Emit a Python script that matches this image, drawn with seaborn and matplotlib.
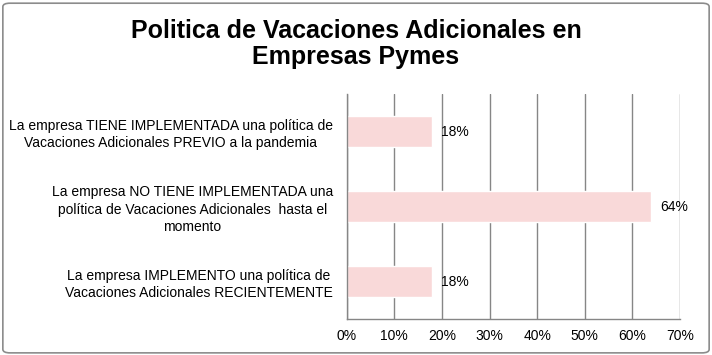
import matplotlib
matplotlib.use("Agg")
import matplotlib.pyplot as plt
from matplotlib.patches import FancyBboxPatch
import seaborn as sns
import pandas as pd

categorias = [
    "La empresa TIENE IMPLEMENTADA una política de\nVacaciones Adicionales PREVIO a la pandemia",
    "La empresa NO TIENE IMPLEMENTADA una\npolítica de Vacaciones Adicionales  hasta el\nmomento",
    "La empresa IMPLEMENTO una política de\nVacaciones Adicionales RECIENTEMENTE",
]
valores = [0.18, 0.64, 0.18]
etiquetas = ["18%", "64%", "18%"]
ticks_x = [0, 0.1, 0.2, 0.3, 0.4, 0.5, 0.6, 0.7]

df = pd.DataFrame({"categoria": categorias, "valor": valores})

sns.set_style("white")
plt.rcParams["font.family"] = ["Liberation Sans", "DejaVu Sans"]
plt.rcParams["text.color"] = "black"
plt.rcParams["xtick.color"] = "black"
plt.rcParams["ytick.color"] = "black"

fig = plt.figure(figsize=(7.12, 3.55), dpi=100)
ax = fig.add_axes([0.487, 0.101, 0.468, 0.634])

sns.barplot(data=df, x="valor", y="categoria", orient="h", color="#F9D9D9",
            saturation=1, width=0.41, ax=ax, zorder=2)

for p, txt in zip(ax.patches, etiquetas):
    ax.text(p.get_width() + 0.018, p.get_y() + p.get_height() / 2, txt,
            va="center", ha="left", fontsize=10, color="black")

ax.set_xlim(0, 0.7)
ax.set_xticks(ticks_x)
ax.set_xticklabels([f"{int(round(t * 100))}%" for t in ticks_x], fontsize=10)
ax.set_ylim(2.5, -0.5)
ax.set_yticks([0, 1, 2])
ax.set_yticklabels(categorias, fontsize=10, multialignment="center",
                   linespacing=1.3)
ax.set_xlabel("")
ax.set_ylabel("")

ax.grid(axis="x", color="#868686", linewidth=1, zorder=0)
ax.set_axisbelow(True)
for s in ["top", "right"]:
    ax.spines[s].set_visible(False)
for s in ["left", "bottom"]:
    ax.spines[s].set_color("#868686")
    ax.spines[s].set_linewidth(1)

# y axis: small ticks at category boundaries, no ticks at labels
ax.tick_params(axis="y", length=0, pad=10)
ax.set_yticks([-0.5, 0.5, 1.5, 2.5], minor=True)
ax.tick_params(axis="y", which="minor", length=4, color="#868686", direction="out")
ax.tick_params(axis="x", length=4, color="#868686", labelcolor="black",
               direction="out", pad=3)

fig.text(0.5, 0.876, "Politica de Vacaciones Adicionales en\nEmpresas Pymes",
         ha="center", va="center", fontsize=18, fontweight="bold",
         linespacing=1.1, color="black")

border = FancyBboxPatch((0.004, 0.006), 0.992, 0.985,
                        boxstyle="round,pad=0,rounding_size=0.01",
                        transform=fig.transFigure, fill=False,
                        edgecolor="#8c8c8c", linewidth=1.2)
fig.patches.append(border)

fig.savefig("out.png", dpi=100, facecolor="white")
